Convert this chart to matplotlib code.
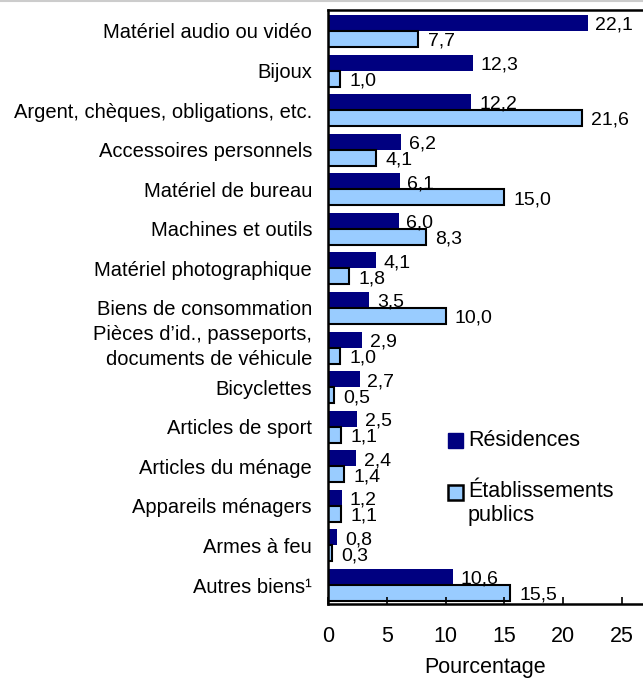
import matplotlib
matplotlib.use("Agg")
import matplotlib.pyplot as plt
from matplotlib.patches import Rectangle
from matplotlib.transforms import ScaledTranslation
import numpy as np

# categories, top to bottom
categories = ["Matériel audio ou vidéo", "Bijoux", "Argent, chèques, obligations, etc.",
              "Accessoires personnels", "Matériel de bureau", "Machines et outils",
              "Matériel photographique", "Biens de consommation",
              "Pièces d\u2019id., passeports,\ndocuments de véhicule", "Bicyclettes",
              "Articles de sport", "Articles du ménage", "Appareils ménagers",
              "Armes à feu", "Autres biens\u00b9"]
residences = [22.1, 12.3, 12.2, 6.2, 6.1, 6.0, 4.1, 3.5, 2.9, 2.7, 2.5, 2.4, 1.2, 0.8, 10.6]
publics = [7.7, 1.0, 21.6, 4.1, 15.0, 8.3, 1.8, 10.0, 1.0, 0.5, 1.1, 1.4, 1.1, 0.3, 15.5]
xticks = [0, 5, 10, 15, 20, 25]

DARK = "#000080"
LIGHT = "#99ccff"
plt.rcParams["font.family"] = ["Liberation Sans", "DejaVu Sans"]


def fmt(v):
    return f"{v:.1f}".replace(".", ",")


def main():
    fig = plt.figure(figsize=(6.43, 6.78), dpi=100)
    ax = fig.add_axes([0.5101, 0.1091, 0.4899, 0.8762])

    y = np.arange(len(categories))
    h = 0.404
    ax.barh(y - h / 2, residences, height=h, color=DARK)
    ax.barh(y + h / 2, publics, height=h, color=LIGHT, edgecolor="black", linewidth=1.5)

    #value labels next to each bar
    for i in range(len(categories)):
        ax.text(residences[i] + 0.65, y[i] - h / 2 + 0.06, fmt(residences[i]),
                va="center", ha="left", fontsize=14)
        ax.text(publics[i] + 0.8, y[i] + h / 2 + 0.06, fmt(publics[i]),
                va="center", ha="left", fontsize=14)

    ax.set_ylim(14.48, -0.53)
    ax.set_xlim(0, 26.8)
    ax.set_yticks(y)
    ax.set_yticklabels(categories, fontsize=14.5, linespacing=1.4)
    ax.tick_params(axis="y", length=0, pad=11.5)
    # the two-line label sits a little higher in the original
    for lab in ax.get_yticklabels():
        if "\n" in lab.get_text():
            lab.set_transform(lab.get_transform() + ScaledTranslation(0, 0.06, fig.dpi_scale_trans))
    ax.set_xticks(xticks)
    ax.tick_params(axis="x", direction="in", length=5, width=1.2, labelsize=15.5, pad=16)
    ax.set_xlabel("Pourcentage", fontsize=15.5, labelpad=7)
    for s in ["left", "bottom", "top"]:
        ax.spines[s].set_linewidth(1.8)
    ax.spines["right"].set_visible(False)

    # legend drawn by hand so the marker sits on the first text line
    ax.add_patch(Rectangle((0.381, 0.2626), 0.0476, 0.0253, transform=ax.transAxes,
                           facecolor=DARK, edgecolor=DARK, clip_on=False))
    ax.add_patch(Rectangle((0.381, 0.175), 0.0476, 0.0253, transform=ax.transAxes,
                           facecolor=LIGHT, edgecolor="black", linewidth=1.8, clip_on=False))
    ax.text(0.444, 0.276, "Résidences", transform=ax.transAxes, va="center",
            ha="left", fontsize=15.5)
    ax.text(0.444, 0.1886, "Établissements", transform=ax.transAxes, va="center",
            ha="left", fontsize=15.5)
    ax.text(0.444, 0.1498, "publics", transform=ax.transAxes, va="center",
            ha="left", fontsize=15.5)

    fig.add_artist(plt.Line2D([0, 1], [0.999, 0.999], color="#cccccc", lw=1.5))
    fig.savefig("out.png", dpi=100)


if __name__ == "__main__":
    main()
